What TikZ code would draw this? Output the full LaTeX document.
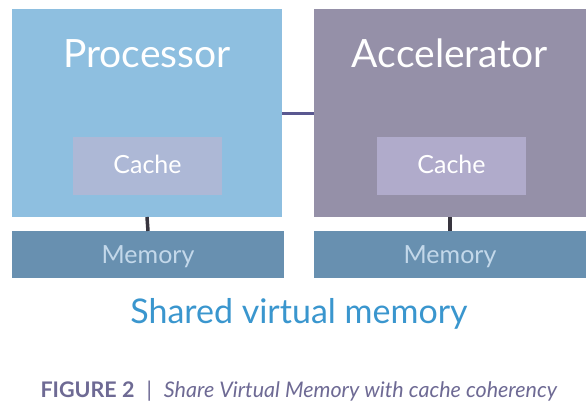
\documentclass[tikz,border=0pt]{standalone}
\usepackage{fontspec}
\setmainfont{Lato}
\usetikzlibrary{positioning}

\definecolor{procblue}{HTML}{8EBFE0}
\definecolor{accgrey}{HTML}{9590A8}
\definecolor{cacheL}{HTML}{ADB8D6}
\definecolor{cacheR}{HTML}{B0ABCB}
\definecolor{memblue}{HTML}{6890B0}
\definecolor{memtext}{HTML}{C3D8EA}
\definecolor{busline}{HTML}{5A5890}
\definecolor{stub}{HTML}{38353F}
\definecolor{svmblue}{HTML}{3A96CE}
\definecolor{capgrey}{HTML}{6E6A94}

\tikzset{
  unitbox/.style={inner sep=0pt, outer sep=0pt},
  title/.style={text=white, font=\fontsize{39}{39}\selectfont, anchor=base},
  cachebox/.style={unitbox, minimum width=149pt, minimum height=58pt},
  cachetext/.style={text=white, font=\fontsize{25}{25}\selectfont, anchor=base},
  membox/.style={unitbox, fill=memblue, minimum height=47pt},
  memtext/.style={text=memtext, font=\fontsize{25}{25}\selectfont, anchor=base},
  bus/.style={busline, line width=3pt},
  link/.style={stub, line width=3.5pt},
}

\begin{document}
\begin{tikzpicture}[x=1pt, y=-1pt]
    \useasboundingbox (0,0) rectangle (586,405);

    \node[unitbox, fill=procblue, minimum width=270pt, minimum height=208pt] (proc) at (147,113) {};
    \node[unitbox, fill=accgrey, minimum width=272pt, minimum height=208pt] (acc) at (450,113) {};
    \node[title] (procT) at (147,67) {Processor};
    \node[title] (accT) at (450,67) {Accelerator};

    \node[cachebox, fill=cacheL] (cacheP) at (147.5,166) {};
    \node[cachebox, fill=cacheR] (cacheA) at (451.5,166) {};
    \node[cachetext] at (cacheP |- 0,173) {Cache};
    \node[cachetext] at (cacheA |- 0,173) {Cache};

    \node[membox, minimum width=272pt] (memP) at (148,254.5) {};
    \node[membox, minimum width=272pt] (memA) at (450,254.5) {};
    \node[memtext] at (memP |- 0,263) {Memory};
    \node[memtext] at (memA |- 0,263) {Memory};

    \draw[bus] (proc.east) -- (acc.west);
    \draw[link] (proc.south) -- (memP.north);
    \draw[link] (acc.south) -- (memA.north);

    \node[text=svmblue, font=\fontsize{34}{34}\selectfont, anchor=base] (svm) at (299,323) {Shared virtual memory};
    \node[text=capgrey, font=\fontsize{21.5}{21.5}\selectfont, anchor=base west] (cap) at (37,397)
        {\textbf{FIGURE 2}\hspace{12pt}|\hspace{12pt}\textit{Share Virtual Memory with cache coherency}};
\end{tikzpicture}
\end{document}
